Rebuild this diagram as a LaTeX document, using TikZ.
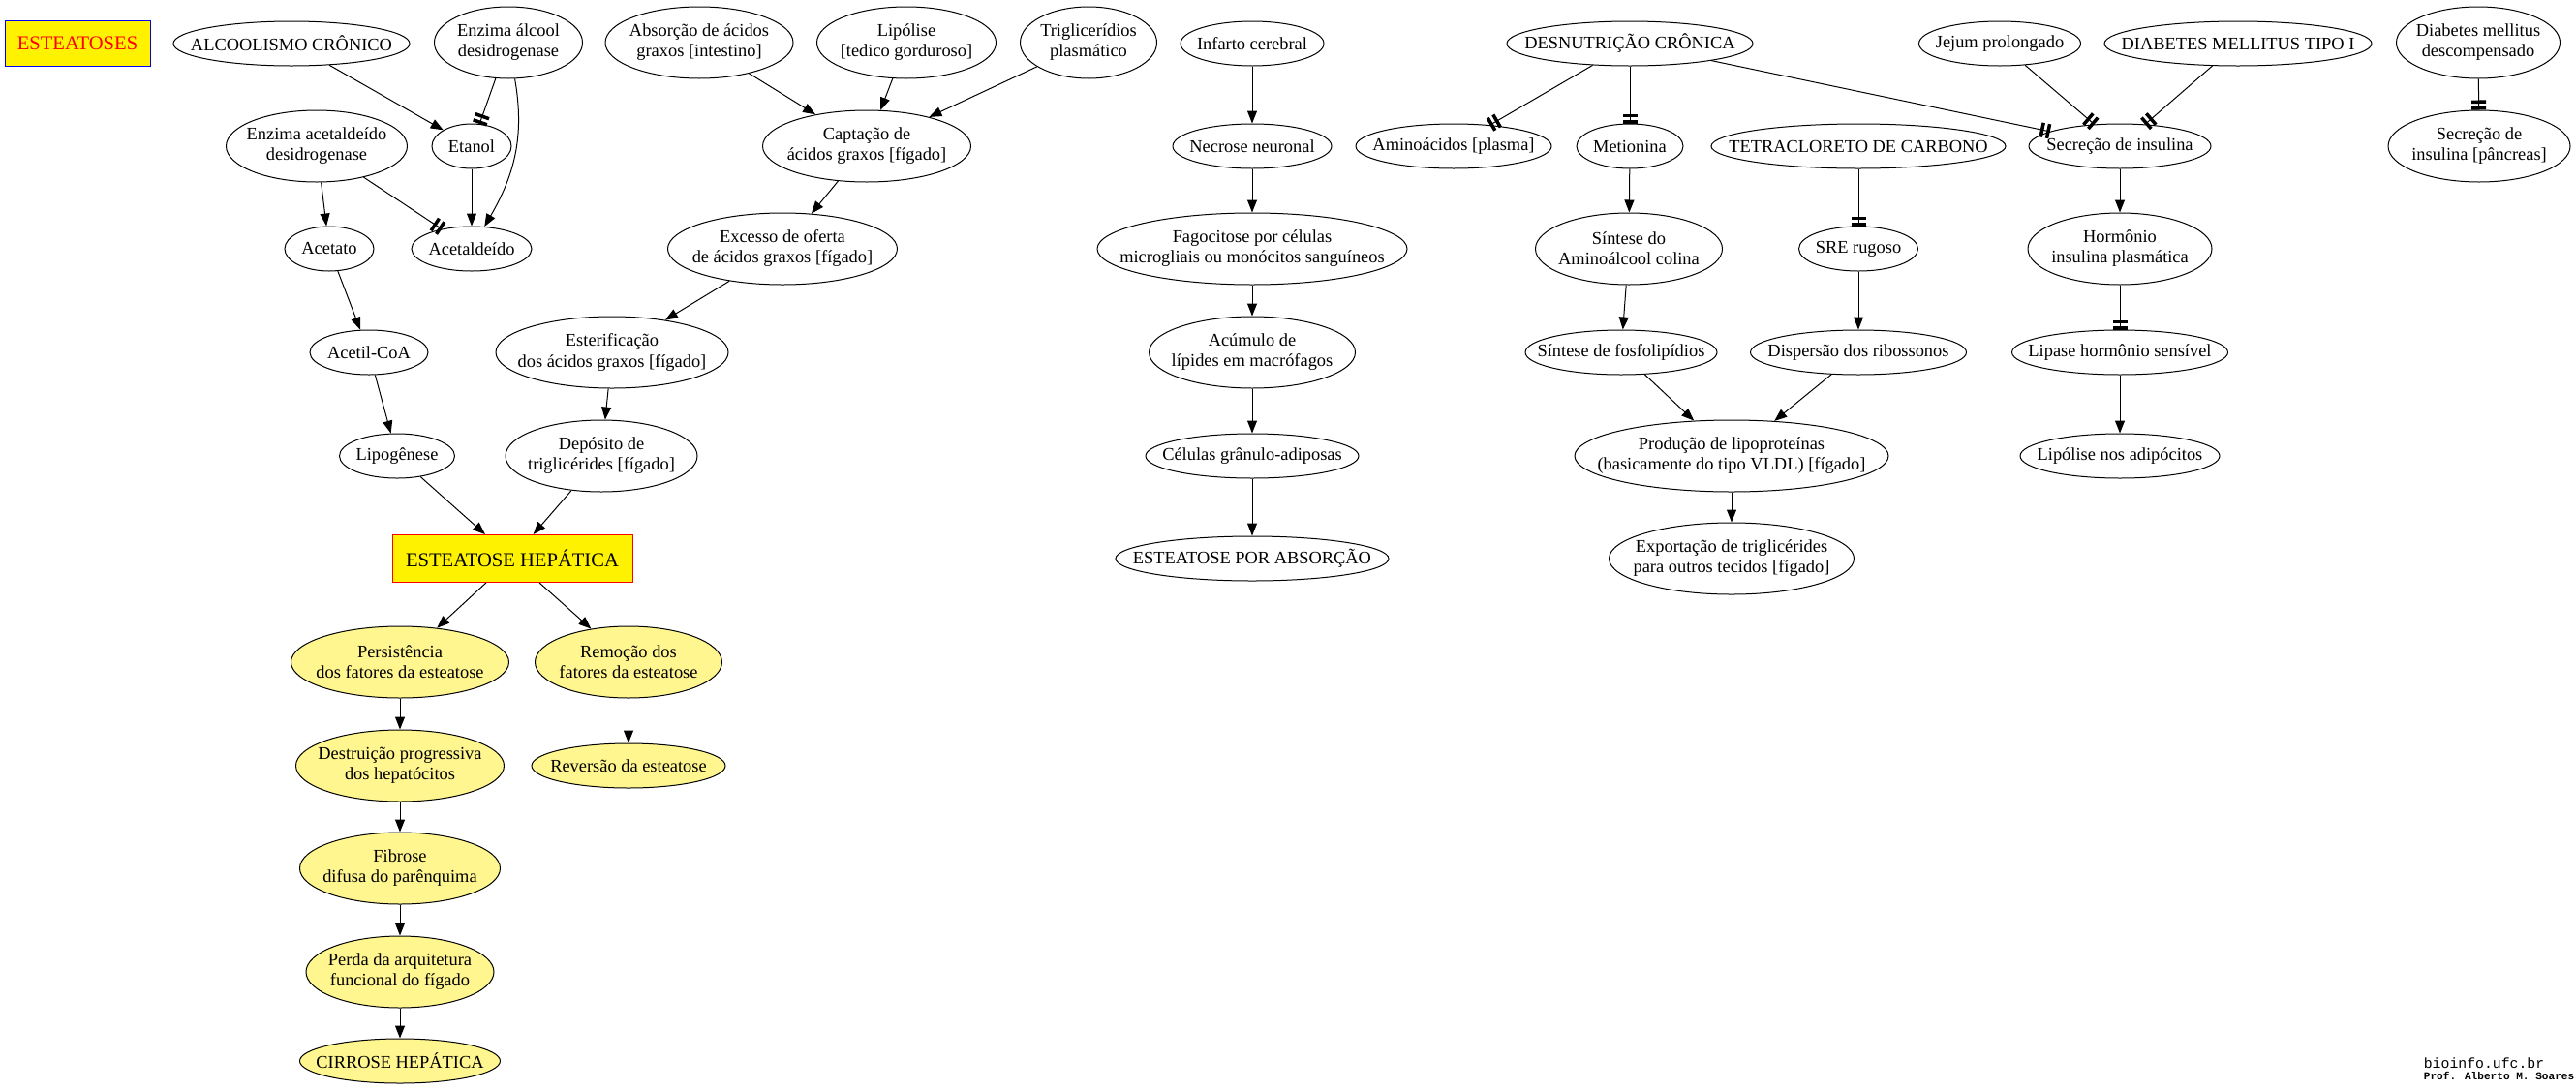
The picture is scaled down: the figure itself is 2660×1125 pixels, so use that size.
\documentclass[tikz,border=0pt]{standalone}
\usepackage{fontspec}
\setmainfont{Liberation Serif}
\newfontfamily\credfont{Liberation Mono}
\usetikzlibrary{arrows.meta,shapes.geometric}
\definecolor{khaki}{HTML}{FFF68F}
\tikzset{
  oval/.style={ellipse, draw, inner sep=-3cm, align=center, minimum height=46pt},
  oval2/.style={oval, minimum height=74pt},
  fate/.style={fill=khaki},
  box/.style={rectangle, draw, fill=yellow, inner sep=0pt, minimum height=47pt, font=\fontsize{20.6}{24}\selectfont},
  arr/.style={-{Triangle[length=13pt,width=10pt]}},
  inh/.style={-{Rectangle[length=3.5pt,width=15pt,sep=3pt]Rectangle[length=3.5pt,width=15pt]}}
}
\begin{document}
\begin{tikzpicture}[x=1pt,y=-1pt,line width=1pt,font=\fontsize{18.4}{21}\selectfont]
\useasboundingbox (0,0) rectangle (2660,1125);
\node[box, draw=blue, text=red, minimum width=150pt] (tit) at (80,45) {ESTEATOSES};
\node[oval, minimum width=244pt] (alc) at (301,45) {ALCOOLISMO CRÔNICO};
\node[oval2, minimum width=153pt] (ead) at (525,44) {Enzima álcool\\desidrogenase};
\node[oval2, minimum width=194pt] (abs) at (722,44) {Absorção de ácidos\\graxos [intestino]};
\node[oval2, minimum width=185pt] (lip) at (936,44) {Lipólise\\{}[tedico gorduroso]};
\node[oval2, minimum width=141pt] (tgp) at (1124,44) {Triglicerídios\\plasmático};
\node[oval, minimum width=148pt] (inf) at (1293,45) {Infarto cerebral};
\node[oval, minimum width=254pt] (des) at (1683,45) {DESNUTRIÇÃO CRÔNICA};
\node[oval, minimum width=167pt] (jej) at (2065,45) {Jejum prolongado};
\node[oval, minimum width=276pt] (dm1) at (2311,45) {DIABETES MELLITUS TIPO I};
\node[oval2, minimum width=169pt] (dmd) at (2559,44) {Diabetes mellitus\\descompensado};
\node[oval2, minimum width=187pt] (eac) at (327,151) {Enzima acetaldeído\\desidrogenase};
\node[oval, minimum width=82pt] (eta) at (487,151) {Etanol};
\node[oval2, minimum width=215pt] (cap) at (895,151) {Captação de\\ácidos graxos [fígado]};
\node[oval, minimum width=164pt] (nec) at (1293,151) {Necrose neuronal};
\node[oval, minimum width=202pt] (ami) at (1501,151) {Aminoácidos [plasma]};
\node[oval, minimum width=110pt] (met) at (1683,151) {Metionina};
\node[oval, minimum width=304pt] (tet) at (1919,151) {TETRACLORETO DE CARBONO};
\node[oval, minimum width=188pt] (sec) at (2189,151) {Secreção de insulina};
\node[oval2, minimum width=188pt] (spa) at (2560,151) {Secreção de\\insulina [pâncreas]};
\node[oval, minimum width=92pt] (ace) at (340,257) {Acetato};
\node[oval, minimum width=124pt] (acd) at (487,257) {Acetaldeído};
\node[oval2, minimum width=237pt] (exc) at (808,257) {Excesso de oferta\\de ácidos graxos [fígado]};
\node[oval2, minimum width=320pt] (fag) at (1293,257) {Fagocitose por células\\microgliais ou monócitos sanguíneos};
\node[oval2, minimum width=193pt] (sac) at (1682,257) {Síntese do\\Aminoálcool colina};
\node[oval, minimum width=123pt] (sre) at (1919,257) {SRE rugoso};
\node[oval2, minimum width=190pt] (hor) at (2189,257) {Hormônio\\insulina plasmática};
\node[oval, minimum width=122pt] (acc) at (381,364) {Acetil-CoA};
\node[oval2, minimum width=240pt] (est) at (632,364) {Esterificação\\dos ácidos graxos [fígado]};
\node[oval2, minimum width=213pt] (acu) at (1293,364) {Acúmulo de\\lípides em macrófagos};
\node[oval, minimum width=198pt] (sfo) at (1674,364) {Síntese de fosfolipídios};
\node[oval, minimum width=223pt] (dis) at (1919,364) {Dispersão dos ribossonos};
\node[oval, minimum width=223pt] (lhs) at (2189,364) {Lipase hormônio sensível};
\node[oval, minimum width=119pt] (lpg) at (410,471) {Lipogênese};
\node[oval2, minimum width=198pt] (dep) at (621,471) {Depósito de\\triglicérides [fígado]};
\node[oval, minimum width=220pt] (cga) at (1293,471) {Células grânulo-adiposas};
\node[oval2, minimum width=324pt] (pro) at (1788,471) {Produção de lipoproteínas\\(basicamente do tipo VLDL) [fígado]};
\node[oval, minimum width=206pt] (lad) at (2189,471) {Lipólise nos adipócitos};
\node[box, draw=red, minimum width=248pt, minimum height=49pt] (hep) at (529,577) {ESTEATOSE HEPÁTICA};
\node[oval, minimum width=282pt] (eab) at (1293,577) {ESTEATOSE POR ABSORÇÃO};
\node[oval2, minimum width=253pt] (exp) at (1788,577) {Exportação de triglicérides\\para outros tecidos [fígado]};
\node[oval2, fate, minimum width=225pt] (per) at (413,684) {Persistência\\dos fatores da esteatose};
\node[oval2, fate, minimum width=193pt] (rem) at (649,684) {Remoção dos\\fatores da esteatose};
\node[oval2, fate, minimum width=215pt] (dst) at (413,791) {Destruição progressiva\\dos hepatócitos};
\node[oval, fate, minimum width=200pt] (rev) at (649,791) {Reversão da esteatose};
\node[oval2, fate, minimum width=207pt] (fib) at (413,897) {Fibrose\\difusa do parênquima};
\node[oval2, fate, minimum width=194pt] (pda) at (413,1004) {Perda da arquitetura\\funcional do fígado};
\node[oval, fate, minimum width=207pt] (cir) at (413,1096) {CIRROSE HEPÁTICA};
\node[anchor=base west, font=\credfont\fontsize{14.8}{17}\selectfont] (web) at (2499,1103) {bioinfo.ufc.br};
\node[anchor=base west, font=\credfont\fontsize{11.1}{14}\selectfont\bfseries] (aut) at (2499,1115) {Prof. Alberto M. Soares};
\draw[arr] (alc) -- (eta);
\draw[inh] (ead) -- (eta);
\draw[arr] (ead) to[out=-80,in=60] (acd);
\draw[arr] (eac) -- (ace);
\draw[inh] (eac) -- (acd);
\draw[arr] (eta) -- (acd);
\draw[arr] (ace) -- (acc);
\draw[arr] (acc) -- (lpg);
\draw[arr] (lpg) -- (hep);
\draw[arr] (abs) -- (cap);
\draw[arr] (lip) -- (cap);
\draw[arr] (tgp) -- (cap);
\draw[arr] (cap) -- (exc);
\draw[arr] (exc) -- (est);
\draw[arr] (est) -- (dep);
\draw[arr] (dep) -- (hep);
\draw[arr] (hep) -- (per);
\draw[arr] (hep) -- (rem);
\draw[arr] (per) -- (dst);
\draw[arr] (dst) -- (fib);
\draw[arr] (fib) -- (pda);
\draw[arr] (pda) -- (cir);
\draw[arr] (rem) -- (rev);
\draw[arr] (inf) -- (nec);
\draw[arr] (nec) -- (fag);
\draw[arr] (fag) -- (acu);
\draw[arr] (acu) -- (cga);
\draw[arr] (cga) -- (eab);
\draw[inh] (des) -- (ami);
\draw[inh] (des) -- (met);
\draw[inh] (des) -- (sec);
\draw[arr] (met) -- (sac);
\draw[arr] (sac) -- (sfo);
\draw[arr] (sfo) -- (pro);
\draw[inh] (tet) -- (sre);
\draw[arr] (sre) -- (dis);
\draw[arr] (dis) -- (pro);
\draw[arr] (pro) -- (exp);
\draw[inh] (jej) -- (sec);
\draw[inh] (dm1) -- (sec);
\draw[arr] (sec) -- (hor);
\draw[inh] (hor) -- (lhs);
\draw[arr] (lhs) -- (lad);
\draw[inh] (dmd) -- (spa);
\end{tikzpicture}
\end{document}
